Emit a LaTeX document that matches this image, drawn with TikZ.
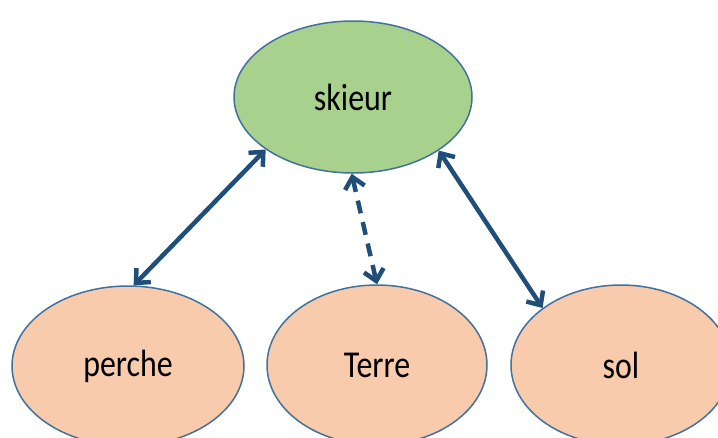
\documentclass[tikz,border=0pt]{standalone}
\usepackage{fontspec}
\setmainfont{Carlito}
\usetikzlibrary{shapes.geometric,arrows.meta}
\definecolor{gfill}{HTML}{A9D18E}
\definecolor{ofill}{HTML}{F8CBAD}
\definecolor{bord}{HTML}{41719C}
\definecolor{arr}{HTML}{1F4E79}
\tikzset{
  ell/.style={ellipse, draw=bord, line width=1.5pt, inner sep=0pt,
    font=\fontsize{38}{40}\selectfont},
  link/.style={draw=arr, line width=4.5pt,
    {Straight Barb[length=11pt,width=20pt,line width=4.5pt]}-{Straight Barb[length=11pt,width=20pt,line width=4.5pt]}},
  dlink/.style={link, dash pattern=on 13pt off 9pt}
}
\newcommand{\sq}[1]{\scalebox{0.84}[1]{#1}}
\begin{document}
\begin{tikzpicture}[x=1pt,y=-1pt]
\useasboundingbox (0,0) rectangle (718,437);
\clip (0,0) rectangle (718,437);
\node[ell, fill=gfill, minimum width=238pt, minimum height=152pt] (sk) at (353,97) {\sq{skieur}};
\node[ell, fill=ofill, minimum width=232pt, minimum height=160pt] (pe) at (128,366) {\sq{perche}};
\node[ell, fill=ofill, minimum width=220pt, minimum height=160pt] (te) at (377,365) {\sq{Terre}};
\node[ell, fill=ofill, minimum width=220pt, minimum height=160pt] (so) at (621,365) {\sq{sol}};
\draw[link] (pe.86) -- (sk.211);
\draw[dlink] (sk.269) -- (te.90);
\draw[link] (sk.328) -- (so.144);
\end{tikzpicture}
\end{document}
